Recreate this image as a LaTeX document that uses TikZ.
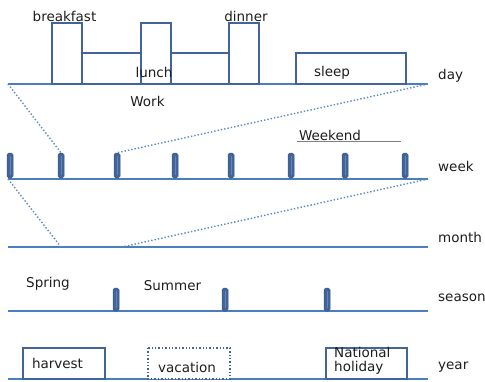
\documentclass[tikz,border=0pt]{standalone}
\usepackage{fontspec}
\setmainfont{DejaVu Sans}
\definecolor{boxblue}{HTML}{41659A}
\definecolor{lineblue}{HTML}{4A7EBE}
\definecolor{dotblue}{HTML}{5A8AC8}
\definecolor{txt}{HTML}{1E1E1E}
\tikzset{
  box/.style={draw=boxblue, line width=1.4pt, fill=white},
  axis/.style={draw=lineblue, line width=1.1pt},
  zoomline/.style={draw=dotblue, line width=1.4pt, dotted},
  tickbar/.style={fill=boxblue, draw=boxblue!85!black, line width=0.5pt, rounded corners=1.8pt},
  tickmid/.style={draw=boxblue!80!white, line width=0.5pt},
  lbl/.style={text=txt, inner sep=0pt, font=\fontsize{13.5}{14}\selectfont},
}
\begin{document}
\begin{tikzpicture}[x=1pt,y=-1pt]
\useasboundingbox (0,0) rectangle (485,381);
% ---- day ----
\coordinate (d0) at (8,84); \coordinate (d1) at (428,84);
\draw[axis] (d0) -- (d1);
\draw[box] (82,53) rectangle (141,84);
\draw[box] (171,53) rectangle (229,84);
\draw[box] (52,23) rectangle (82,84);
\draw[box] (141,23) rectangle (171,84);
\draw[box] (229,23) rectangle (259,84);
\draw[box] (296,53) rectangle (406,84);
\node[lbl] (breakfast) at (64.5,16) {breakfast};
\node[lbl] (dinner) at (246,16.5) {dinner};
\node[lbl] (lunch) at (154,72) {lunch};
\node[lbl] (sleep) at (332,73) {sleep};
\node[lbl] (work) at (147.5,101) {Work};
\node[lbl,anchor=west] (day) at (438,75.5) {day};
% ---- week ----
\coordinate (w0) at (8,179); \coordinate (w1) at (428,179);
\draw[axis] (w0) -- (w1);
\foreach \x [count=\i] in {10,61,117,175,231,291,345,405}{
  \node[tickbar, minimum width=6pt, minimum height=25pt, inner sep=0pt] (t\i) at (\x,165.5) {};
  \draw[tickmid] ([yshift=-3pt]t\i.north) -- ([yshift=3pt]t\i.south);
}
\draw[zoomline] (d0) -- (t2.north);
\draw[zoomline] (d1) -- (t3.north);
\node[lbl] (weekend) at (330,135) {Weekend};
\coordinate (u0) at (297,141.5); \coordinate (u1) at (401,141.5);
\draw[gray, line width=0.9pt] (u0) -- (u1);
\node[lbl,anchor=west] (week) at (438,166) {week};
% ---- month ----
\coordinate (m0) at (8,247); \coordinate (m1) at (428,247);
\coordinate (ma) at (61,247); \coordinate (mb) at (122,247);
\draw[axis] (m0) -- (m1);
\draw[zoomline] (w0) -- (ma);
\draw[zoomline] (w1) -- (mb);
\node[lbl,anchor=west] (month) at (438,237) {month};
% ---- season ----
\coordinate (s0) at (8,311); \coordinate (s1) at (428,311);
\draw[axis] (s0) -- (s1);
\foreach \x [count=\i] in {116,225,327}{
  \node[tickbar, minimum width=6pt, minimum height=23pt, inner sep=0pt] (st\i) at (\x,299.5) {};
  \draw[tickmid] ([yshift=-3pt]st\i.north) -- ([yshift=3pt]st\i.south);
}
\node[lbl] (spring) at (48,283.5) {Spring};
\node[lbl] (summer) at (172.5,286) {Summer};
\node[lbl,anchor=west] (season) at (438,298) {season};
% ---- year ----
\coordinate (y0) at (8,379); \coordinate (y1) at (428,379);
\draw[axis] (y0) -- (y1);
\draw[box] (23,348) rectangle (105,379);
\draw[box, dotted, line width=1.6pt] (148,348) rectangle (230,379);
\draw[box] (326,348) rectangle (407,379);
\node[lbl] (harvest) at (57.5,363.5) {harvest};
\node[lbl] (vacation) at (187,367) {vacation};
\node[lbl,anchor=north west, align=left] (national) at (334,347) {National\\holiday};
\node[lbl,anchor=west] (year) at (438,367) {year};
\end{tikzpicture}
\end{document}
